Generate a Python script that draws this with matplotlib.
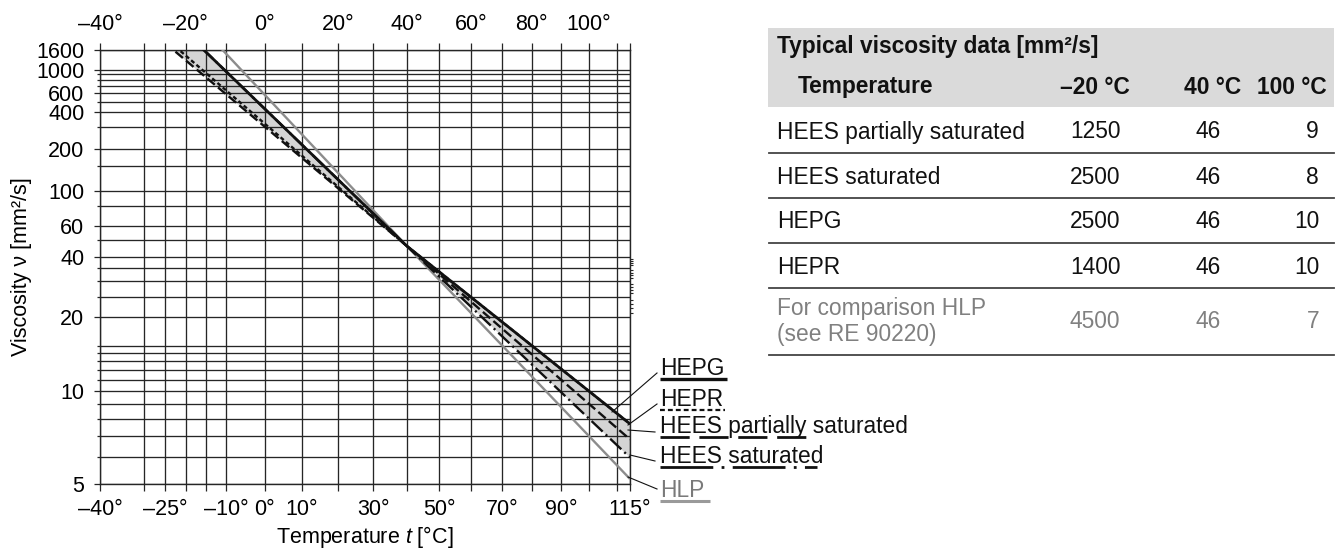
import numpy as np
import matplotlib
matplotlib.use("Agg")
import matplotlib.pyplot as plt
from matplotlib.ticker import FixedLocator, FixedFormatter, NullFormatter
from matplotlib.lines import Line2D
from matplotlib.patches import Rectangle

# ---------------- data ----------------
temps = [-25, -20, 40, 100, 115]          # °C (first/last: chart edges)
hees_partial = [1915, 1250, 46, 9, 6.83]
hees_saturated = [4297, 2500, 46, 8, 5.99]
hepg = [4297, 2500, 46, 10, 7.68]
hepr = [2184, 1400, 46, 10, 7.68]
hlp = [8561, 4500, 46, 7, 5.17]

x_grid = [-40, -30, -25, -20, -15, -10, 0, 10, 20, 30, 40, 50, 60, 70, 80, 90, 100, 110, 115]
x_bottom_labels = [-40, -25, -10, 0, 10, 30, 50, 70, 90, 115]
x_top_labels = [-40, -20, 0, 20, 40, 60, 80, 100]
y_labels = [5, 10, 20, 40, 60, 100, 200, 400, 600, 1000, 1600]
y_grid_minor = [6, 7, 8, 9, 11, 12, 13, 14, 15, 25, 30, 35, 50, 80, 150, 300, 500, 700, 800, 900]
y_small_ticks = [21, 22, 23, 24, 26, 27, 28, 29, 31, 32, 33, 34, 36, 37, 38, 39]

table_fluids = ["HEES partially saturated", "HEES saturated", "HEPG", "HEPR",
                "For comparison HLP\n(see RE 90220)"]
table_m20 = [1250, 2500, 2500, 1400, 4500]
table_40 = [46, 46, 46, 46, 46]
table_100 = [9, 8, 10, 10, 7]
table_cols = ["Temperature", "–20 °C", "40 °C", "100 °C"]

legend_names = ["HEPG", "HEPR", "HEES partially saturated", "HEES saturated", "HLP"]

# ---------------- style ----------------
plt.rcParams["font.family"] = ["Liberation Sans", "DejaVu Sans"]
plt.rcParams["mathtext.fontset"] = "custom"
plt.rcParams["mathtext.it"] = "Liberation Sans:italic"
plt.rcParams["mathtext.rm"] = "Liberation Sans"
plt.rcParams["lines.scale_dashes"] = False

W, H = 1341, 552
fig = plt.figure(figsize=(W / 100, H / 100), dpi=100)


def fx(px):
    return px / W


def fy(py):
    return 1 - py / H


def fwd_x(t):
    return np.log10(np.asarray(t, dtype=float) + 273.15)


def inv_x(u):
    return 10 ** np.asarray(u, dtype=float) - 273.15


def fwd_y(v):
    v = np.asarray(v, dtype=float)
    with np.errstate(all="ignore"):
        return np.log10(np.log10(np.clip(v + 0.7, 1.0001, None)))


def inv_y(w):
    w = np.asarray(w, dtype=float)
    return 10 ** (10 ** w) - 0.7


GRID_C = "#262626"
ax = fig.add_axes([fx(100), fy(484), (630 - 100) / W, (484 - 50) / H])
ax.set_xscale("function", functions=(fwd_x, inv_x))
ax.set_yscale("function", functions=(fwd_y, inv_y))
ax.set_xlim(-40, 115)
ax.set_ylim(5, 1600)

TICK_FS = 15.5


def deg(v):
    return ("–%d°" % -v) if v < 0 else ("%d°" % v)


ax.xaxis.set_major_locator(FixedLocator(x_grid))
ax.xaxis.set_major_formatter(FixedFormatter([deg(v) if v in x_bottom_labels else "" for v in x_grid]))
ax.xaxis.set_minor_locator(FixedLocator([]))
ax.yaxis.set_major_locator(FixedLocator(y_labels))
ax.yaxis.set_major_formatter(FixedFormatter([str(v) for v in y_labels]))
ax.yaxis.set_minor_locator(FixedLocator(y_grid_minor))
ax.yaxis.set_minor_formatter(NullFormatter())

ax.tick_params(axis="x", which="major", direction="out", length=5, width=0.9, color=GRID_C,
               labelsize=TICK_FS, pad=6, top=False, bottom=True)
ax.tick_params(axis="y", which="major", direction="out", length=4.3, width=0.9, color=GRID_C,
               labelsize=TICK_FS, pad=7, left=True, right=True)
ax.tick_params(axis="y", which="minor", direction="out", length=2.5, width=0.9, color=GRID_C,
               left=True, right=True)
ax.grid(True, which="both", color=GRID_C, lw=0.95)
ax.set_axisbelow(True)
for s in ax.spines.values():
    s.set_color(GRID_C)
    s.set_linewidth(1.0)

# top axis
ax2 = ax.twiny()
ax2.set_xscale("function", functions=(fwd_x, inv_x))
ax2.set_xlim(-40, 115)
ax2.xaxis.set_major_locator(FixedLocator(x_grid))
ax2.xaxis.set_major_formatter(FixedFormatter([deg(v) if v in x_top_labels else "" for v in x_grid]))
ax2.xaxis.set_minor_locator(FixedLocator([]))
ax2.tick_params(axis="x", which="major", direction="out", length=5, width=0.9, color=GRID_C,
                labelsize=TICK_FS, pad=6)
for s in ax2.spines.values():
    s.set_visible(False)

# small ticks on the right side
ax3 = ax.twinx()
ax3.set_yscale("function", functions=(fwd_y, inv_y))
ax3.set_ylim(5, 1600)
ax3.yaxis.set_major_locator(FixedLocator(y_small_ticks))
ax3.yaxis.set_major_formatter(NullFormatter())
ax3.yaxis.set_minor_locator(FixedLocator([]))
ax3.tick_params(axis="y", which="major", direction="out", length=1.8, width=0.8, color=GRID_C)
for s in ax3.spines.values():
    s.set_visible(False)

# band and lines
he = np.array([hees_partial, hees_saturated, hepg, hepr], dtype=float)
ax.fill_between(temps, he.min(axis=0), he.max(axis=0), color="#d4d4d4", lw=0, zorder=0.3)

styles = {
    "HLP": dict(color="#8c8c8c", lw=1.7, ls="-"),
    "HEES saturated": dict(color="#111111", lw=1.7, dashes=(11, 3, 1.5, 3)),
    "HEES partially saturated": dict(color="#111111", lw=1.7, dashes=(7, 3)),
    "HEPR": dict(color="#111111", lw=1.7, dashes=(3, 2)),
    "HEPG": dict(color="#111111", lw=2.0, ls="-"),
}
series = {
    "HLP": hlp,
    "HEES saturated": hees_saturated,
    "HEES partially saturated": hees_partial,
    "HEPR": hepr,
    "HEPG": hepg,
}
for name in ["HLP", "HEES saturated", "HEES partially saturated", "HEPR", "HEPG"]:
    ax.plot(temps, series[name], zorder=3, solid_capstyle="butt", **styles[name])

# axis labels
fig.text(fx(22), fy(267), "Viscosity ν [mm²/s]", rotation=90, ha="center", va="center",
         fontsize=TICK_FS)
fig.text(fx(365), fy(537), "Temperature $t$ [°C]", ha="center", va="center", fontsize=TICK_FS)

# ---------------- labels with underlines ----------------
LAB_FS = 16.4
lab_base = [375, 406, 433, 463, 497]
under_y = [379, 410, 437, 467, 501]
under_x2 = [727, 725, 813, 817, 710]
under_style = {
    "HEPG": dict(color="#111111", lw=2.4, ls="-"),
    "HEPR": dict(color="#111111", lw=1.6, dashes=(3.5, 2.2)),
    "HEES partially saturated": dict(color="#111111", lw=2.0, dashes=(21, 7)),
    "HEES saturated": dict(color="#111111", lw=2.0, dashes=(38, 6, 2, 6)),
    "HLP": dict(color="#9a9a9a", lw=2.2, ls="-"),
}
leaders = [((657, 373), (612, 412)), ((657, 404), (628, 425)), ((655, 432), (628, 430)),
           ((655, 461), (630, 455)), ((657, 489), (628, 477))]
for i, name in enumerate(legend_names):
    col = "#7a7a7a" if name == "HLP" else "#111111"
    fig.text(fx(660), fy(lab_base[i]), name, fontsize=LAB_FS, color=col, ha="left", va="baseline")
    fig.add_artist(Line2D([fx(660), fx(under_x2[i])], [fy(under_y[i])] * 2,
                          transform=fig.transFigure, solid_capstyle="butt", **under_style[name]))
    (a, b) = leaders[i]
    fig.add_artist(Line2D([fx(a[0]), fx(b[0])], [fy(a[1]), fy(b[1])], transform=fig.transFigure,
                          color="#111111", lw=0.8))

# ---------------- table ----------------
TB_FS = 16.4
fig.add_artist(Rectangle((fx(768), fy(107)), (1334 - 768) / W, (107 - 28) / H,
                         transform=fig.transFigure, facecolor="#dadada", edgecolor="none"))
fig.text(fx(777), fy(47), "Typical viscosity data [mm²/s]", fontsize=TB_FS, fontweight="bold",
         ha="left", va="center", color="#111111")
hy = 87
fig.text(fx(798), fy(hy), table_cols[0], fontsize=TB_FS, fontweight="bold", ha="left", va="center",
         color="#111111")
fig.text(fx(1095), fy(hy), table_cols[1], fontsize=TB_FS, fontweight="bold", ha="center",
         va="center", color="#111111")
fig.text(fx(1213), fy(hy), table_cols[2], fontsize=TB_FS, fontweight="bold", ha="center",
         va="center", color="#111111")
fig.text(fx(1327), fy(hy), table_cols[3], fontsize=TB_FS, fontweight="bold", ha="right",
         va="center", color="#111111")

row_y = [132, 177, 222, 267, 321]
line_y = [153, 198, 243, 288, 355]
for i, name in enumerate(table_fluids):
    col = "#808080" if i == 4 else "#111111"
    if "\n" in name:
        l1, l2 = name.split("\n")
        fig.text(fx(777), fy(309), l1, fontsize=TB_FS, ha="left", va="center", color=col)
        fig.text(fx(777), fy(334), l2, fontsize=TB_FS, ha="left", va="center", color=col)
    else:
        fig.text(fx(777), fy(row_y[i]), name, fontsize=TB_FS, ha="left", va="center", color=col)
    fig.text(fx(1095), fy(row_y[i]), str(table_m20[i]), fontsize=TB_FS, ha="center", va="center", color=col)
    fig.text(fx(1208), fy(row_y[i]), str(table_40[i]), fontsize=TB_FS, ha="center", va="center", color=col)
    fig.text(fx(1319), fy(row_y[i]), str(table_100[i]), fontsize=TB_FS, ha="right", va="center", color=col)
    fig.add_artist(Line2D([fx(769), fx(1334)], [fy(line_y[i])] * 2, transform=fig.transFigure,
                          color="#444444", lw=1.3))

fig.savefig("out.png", dpi=100)
